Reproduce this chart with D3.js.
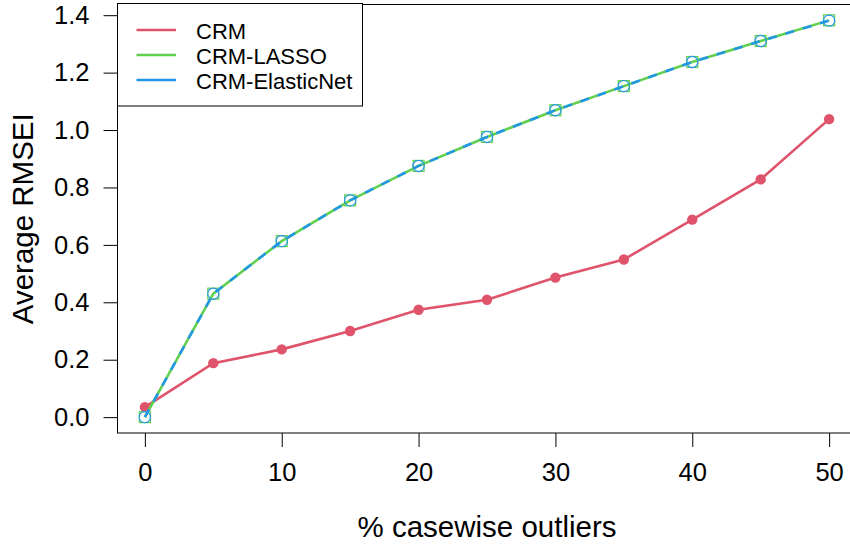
<!DOCTYPE html>
<html>
<head>
<meta charset="utf-8">
<script src="https://cdn.jsdelivr.net/npm/d3@7"></script>
<style>
  html, body { margin: 0; padding: 0; background: #fff; }
  svg { display: block; font-family: "Liberation Sans", Arial, sans-serif; }
</style>
</head>
<body>
<svg id="chart" width="850" height="545"></svg>
<script>
// ---- data ----
const outliers = [0, 5, 10, 15, 20, 25, 30, 35, 40, 45, 50];
const crm        = [0.035, 0.188, 0.236, 0.300, 0.374, 0.409, 0.486, 0.549, 0.688, 0.828, 1.038];
const crmLasso   = [0.000, 0.430, 0.613, 0.755, 0.875, 0.976, 1.069, 1.153, 1.237, 1.310, 1.382];
const crmElastic = [0.000, 0.430, 0.613, 0.755, 0.875, 0.976, 1.069, 1.153, 1.237, 1.310, 1.381];
const seriesNames = ["CRM", "CRM-LASSO", "CRM-ElasticNet"];
const xTicks = [0, 10, 20, 30, 40, 50];
const yTicks = [0.0, 0.2, 0.4, 0.6, 0.8, 1.0, 1.2, 1.4];
const xTitle = "% casewise outliers";
const yTitle = "Average RMSEI";

const colors = { "CRM": "#DF536B", "CRM-LASSO": "#61D04F", "CRM-ElasticNet": "#2297E6" };

// ---- layout ----
const plot = { left: 117.5, right: 856.5, top: 4.5, bottom: 433 };
const svg = d3.select("#chart");

// R-style 4% axis expansion
function expand(lo, hi) { const d = (hi - lo) * 0.04; return [lo - d, hi + d]; }
const allY = crm.concat(crmLasso, crmElastic);
const x = d3.scaleLinear().domain(expand(d3.min(outliers), d3.max(outliers))).range([plot.left, plot.right]);
const y = d3.scaleLinear().domain(expand(d3.min(allY), d3.max(allY))).range([plot.bottom, plot.top]);

// ---- axes ----
const xAxis = svg.append("g").attr("transform", `translate(0,${plot.bottom})`)
  .call(d3.axisBottom(x).tickValues(xTicks).tickFormat(d3.format("d")).tickSize(14).tickPadding(16));
xAxis.select(".domain").remove();
xAxis.selectAll("line").attr("stroke", "#000").attr("stroke-width", 1);
xAxis.selectAll("text").attr("font-size", 25.5).attr("fill", "#000")
  .attr("font-family", "Liberation Sans, Arial, sans-serif");

const yAxis = svg.append("g").attr("transform", `translate(${plot.left},0)`)
  .call(d3.axisLeft(y).tickValues(yTicks).tickFormat(d3.format(".1f")).tickSize(14).tickPadding(14));
yAxis.select(".domain").remove();
yAxis.selectAll("line").attr("stroke", "#000").attr("stroke-width", 1);
yAxis.selectAll("text").attr("font-size", 25.5).attr("fill", "#000")
  .attr("font-family", "Liberation Sans, Arial, sans-serif");

// box
svg.append("rect")
  .attr("x", plot.left).attr("y", plot.top)
  .attr("width", plot.right - plot.left).attr("height", plot.bottom - plot.top)
  .attr("fill", "none").attr("stroke", "#000").attr("stroke-width", 1);

// titles
svg.append("text")
  .attr("x", (plot.left + plot.right) / 2).attr("y", 536.5)
  .attr("text-anchor", "middle").attr("font-size", 29.5).attr("fill", "#000")
  .text(xTitle);
svg.append("text")
  .attr("transform", `translate(32.5,${(plot.top + plot.bottom) / 2}) rotate(-90)`)
  .attr("text-anchor", "middle").attr("font-size", 29.5).attr("fill", "#000")
  .text(yTitle);

// ---- series ----
const line = d3.line().x((d, i) => x(outliers[i])).y(d => y(d));
const g = svg.append("g");

// CRM
g.append("path").datum(crm).attr("d", line)
  .attr("fill", "none").attr("stroke", colors["CRM"]).attr("stroke-width", 2.6);
g.selectAll(".p-crm").data(crm).enter().append("circle")
  .attr("cx", (d, i) => x(outliers[i])).attr("cy", d => y(d)).attr("r", 5.2)
  .attr("fill", colors["CRM"]);

// CRM-LASSO
g.append("path").datum(crmLasso).attr("d", line)
  .attr("fill", "none").attr("stroke", colors["CRM-LASSO"]).attr("stroke-width", 2.6);
g.selectAll(".p-lasso").data(crmLasso).enter().append("rect")
  .attr("x", (d, i) => x(outliers[i]) - 5.5).attr("y", d => y(d) - 5.5)
  .attr("width", 11).attr("height", 11)
  .attr("fill", "none").attr("stroke", colors["CRM-LASSO"]).attr("stroke-width", 1.2);

// CRM-ElasticNet
g.append("path").datum(crmElastic).attr("d", line)
  .attr("fill", "none").attr("stroke", colors["CRM-ElasticNet"]).attr("stroke-width", 2.6)
  .attr("stroke-dasharray", "9,9");
g.selectAll(".p-enet").data(crmElastic).enter().append("circle")
  .attr("cx", (d, i) => x(outliers[i])).attr("cy", d => y(d)).attr("r", 5.6)
  .attr("fill", "none").attr("stroke", colors["CRM-ElasticNet"]).attr("stroke-width", 1.2);

// ---- legend ----
const leg = svg.append("g");
const legBox = { x: plot.left, y: 3.5, w: 245, h: 102.5 };
leg.append("rect").attr("x", legBox.x).attr("y", legBox.y).attr("width", legBox.w).attr("height", legBox.h)
  .attr("fill", "#fff").attr("stroke", "#000").attr("stroke-width", 1);
const rowY = d3.scalePoint().domain(seriesNames).range([30.5, 80.5]);
seriesNames.forEach(name => {
  leg.append("line")
    .attr("x1", 136.5).attr("x2", 176).attr("y1", rowY(name) - 0.5).attr("y2", rowY(name) - 0.5)
    .attr("stroke", colors[name]).attr("stroke-width", 2.6);
  leg.append("text")
    .attr("x", 196).attr("y", rowY(name) + 8.5)
    .attr("font-size", 22).attr("fill", "#000")
    .text(name);
});
</script>
</body>
</html>
